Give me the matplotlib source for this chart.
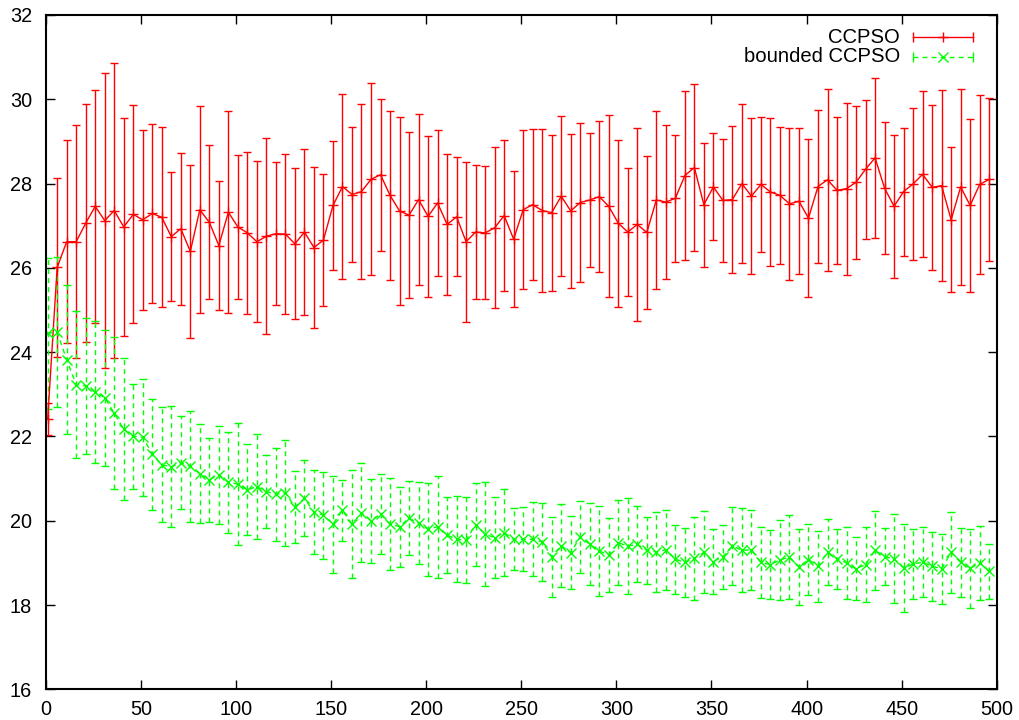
import numpy as np
import matplotlib
matplotlib.use("Agg")
import matplotlib.pyplot as plt

plt.rcParams['font.family'] = ['Liberation Sans', 'DejaVu Sans']

# sampled generations
generations = np.arange(1, 500, 5)

ccpso_mean = [
    22.41, 26.01, 26.62, 26.62, 27.06, 27.46, 27.12, 27.36, 26.97, 27.27,
    27.14, 27.29, 27.20, 26.74, 26.93, 26.39, 27.38, 27.08, 26.53, 27.32,
    26.97, 26.83, 26.62, 26.75, 26.81, 26.80, 26.57, 26.85, 26.48, 26.66,
    27.48, 27.93, 27.74, 27.81, 28.10, 28.21, 27.72, 27.35, 27.25, 27.62,
    27.22, 27.54, 27.03, 27.21, 26.62, 26.85, 26.83, 26.95, 27.24, 26.68,
    27.38, 27.50, 27.36, 27.31, 27.70, 27.35, 27.55, 27.61, 27.69, 27.46,
    27.06, 26.85, 27.03, 26.84, 27.61, 27.56, 27.65, 28.19, 28.38, 27.50,
    27.92, 27.60, 27.62, 28.00, 27.70, 27.98, 27.80, 27.72, 27.52, 27.58,
    27.18, 27.93, 28.09, 27.84, 27.88, 28.03, 28.34, 28.61, 27.89, 27.46,
    27.81, 27.99, 28.22, 27.91, 27.95, 27.14, 27.92, 27.48, 27.98, 28.10,
]
ccpso_err = [
    0.38, 2.12, 2.41, 2.77, 2.82, 2.76, 3.50, 3.50, 2.59, 2.59,
    2.13, 2.12, 2.14, 1.53, 1.80, 2.05, 2.45, 1.83, 1.52, 2.40,
    1.71, 1.93, 1.91, 2.33, 1.70, 1.90, 1.79, 1.96, 1.91, 1.57,
    1.54, 2.19, 1.61, 2.07, 2.28, 1.80, 2.00, 2.22, 1.97, 2.02,
    1.90, 1.74, 1.68, 1.41, 1.90, 1.59, 1.58, 1.91, 1.80, 1.62,
    1.88, 1.79, 1.93, 1.85, 1.90, 1.83, 1.88, 1.58, 1.79, 2.16,
    1.98, 1.52, 2.29, 1.81, 2.12, 1.83, 1.50, 2.01, 1.98, 1.47,
    1.27, 1.46, 1.75, 1.89, 1.85, 1.61, 1.75, 1.62, 1.81, 1.73,
    1.87, 1.82, 2.16, 1.75, 2.04, 1.82, 1.65, 1.89, 1.56, 1.70,
    1.52, 1.80, 1.97, 1.96, 2.26, 1.72, 2.33, 2.05, 2.13, 1.94,
]

bounded_mean = [
    24.45, 24.47, 23.82, 23.23, 23.20, 23.05, 22.92, 22.55, 22.17, 22.00,
    21.98, 21.58, 21.33, 21.28, 21.38, 21.29, 21.12, 20.97, 21.09, 20.91,
    20.87, 20.73, 20.81, 20.69, 20.63, 20.66, 20.33, 20.53, 20.21, 20.13,
    19.92, 20.25, 19.92, 20.19, 20.00, 20.16, 19.92, 19.86, 20.06, 19.94,
    19.80, 19.86, 19.66, 19.56, 19.54, 19.91, 19.68, 19.60, 19.72, 19.56,
    19.56, 19.56, 19.50, 19.15, 19.41, 19.24, 19.62, 19.44, 19.28, 19.19,
    19.48, 19.40, 19.44, 19.30, 19.26, 19.31, 19.09, 19.01, 19.11, 19.25,
    19.03, 19.15, 19.40, 19.30, 19.31, 19.01, 18.96, 19.07, 19.14, 18.90,
    19.08, 18.92, 19.25, 19.10, 19.00, 18.86, 18.96, 19.30, 19.15, 19.10,
    18.88, 18.97, 19.02, 18.92, 18.86, 19.25, 19.01, 18.87, 19.00, 18.80,
]
bounded_err = [
    1.79, 1.78, 1.77, 1.75, 1.61, 1.68, 1.61, 1.80, 1.68, 1.25,
    1.39, 1.32, 1.36, 1.44, 1.10, 1.32, 1.17, 1.00, 1.16, 1.19,
    1.45, 1.08, 1.25, 0.86, 1.10, 1.25, 0.85, 0.90, 0.99, 1.03,
    1.15, 0.72, 1.29, 1.18, 1.00, 0.94, 1.10, 0.95, 0.88, 0.97,
    1.10, 1.21, 0.90, 1.02, 1.02, 0.98, 1.23, 0.97, 1.04, 0.74,
    0.76, 0.88, 0.92, 0.95, 0.98, 0.87, 0.86, 0.97, 1.07, 0.87,
    1.01, 1.15, 0.90, 0.80, 0.95, 0.95, 0.82, 0.82, 0.98, 0.97,
    0.78, 0.76, 0.92, 1.00, 0.95, 0.84, 0.82, 0.94, 0.99, 0.90,
    0.84, 0.84, 0.78, 0.71, 0.86, 0.75, 0.88, 0.94, 0.68, 1.05,
    1.05, 0.83, 0.84, 0.82, 0.83, 0.96, 0.82, 0.93, 0.88, 0.65,
]

series_labels = ["CCPSO", "bounded CCPSO"]
x_ticks = [0, 50, 100, 150, 200, 250, 300, 350, 400, 450, 500]
y_ticks = [16, 18, 20, 22, 24, 26, 28, 30, 32]

RED = "#ff0000"
GREEN = "#00ff00"
DASH = (0, (3.6, 2.9))

fig = plt.figure(figsize=(10.19, 7.2), dpi=100)
ax = fig.add_axes([0.0449, 0.0426, 0.9333, 0.9366])

ax.errorbar(generations, ccpso_mean, yerr=ccpso_err, color=RED,
            lw=1.0, elinewidth=1.0, capsize=2.6, capthick=1.0,
            marker='+', markersize=7, markeredgewidth=1.0)

eb = ax.errorbar(generations, bounded_mean, yerr=bounded_err, color=GREEN,
                 lw=1.0, elinewidth=1.0, capsize=2.6, capthick=1.0,
                 marker='x', markersize=6.5, markeredgewidth=1.0,
                 linestyle=DASH)
for coll in eb[2]:
    coll.set_linestyle(DASH)

ax.set_xlim(0, 500)
ax.set_ylim(16, 32)
ax.set_xticks(x_ticks)
ax.set_yticks(y_ticks)
ax.tick_params(direction='in', top=True, right=True, length=6.5, width=1.0,
               labelsize=14.3, pad=8, colors='black')
ax.tick_params(axis='y', pad=10)
for sp in ax.spines.values():
    sp.set_linewidth(1.5)

# key in the top-right corner
key_rows = [(0.967, RED, '-', '+', 7, series_labels[0]),
            (0.938, GREEN, DASH, 'x', 6.5, series_labels[1])]
for ky, col, ls, mk, ms, label in key_rows:
    ax.text(0.898, ky, label, transform=ax.transAxes, ha='right', va='center',
            fontsize=14.6)
    ax.plot([0.912, 0.975], [ky, ky], transform=ax.transAxes, color=col,
            lw=1.0, linestyle=ls, clip_on=False)
    ax.plot([0.912, 0.975], [ky, ky], transform=ax.transAxes, color=col,
            lw=0, marker='|', markersize=7, markeredgewidth=1.0, clip_on=False)
    ax.plot([0.9435], [ky], transform=ax.transAxes, color=col, lw=0,
            marker=mk, markersize=ms, markeredgewidth=1.0, clip_on=False)

fig.savefig("out.png", dpi=100)
